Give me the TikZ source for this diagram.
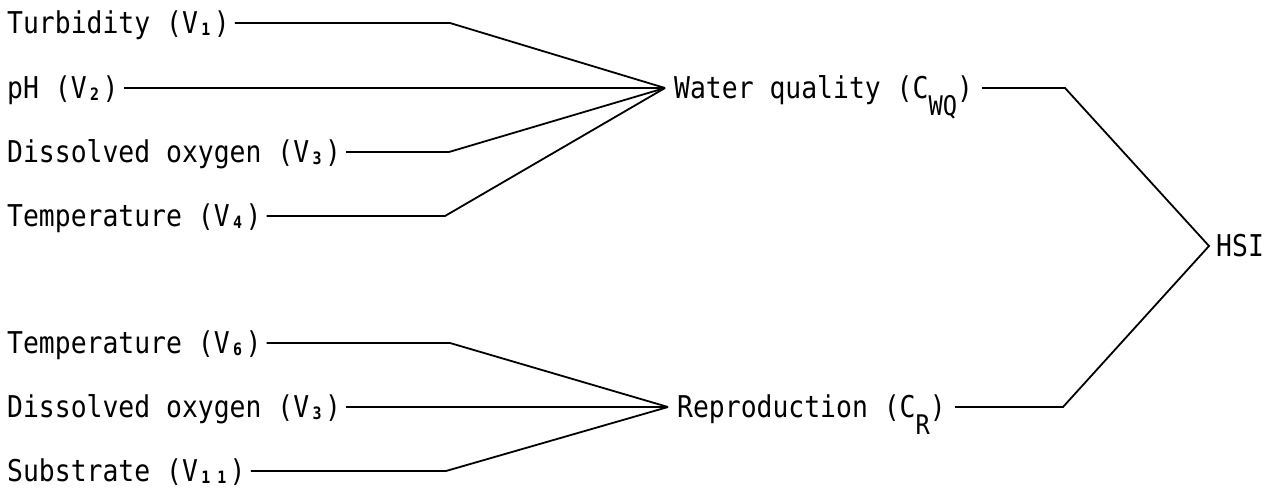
\documentclass[tikz,border=0pt]{standalone}
\usepackage{fontspec}
\newfontfamily\diagfont[FakeStretch=0.88]{DejaVu Sans Mono}
\newcommand\vsb[1]{\makebox[15.9pt]{\raisebox{-2pt}{\fontsize{17}{17}\selectfont\bfseries #1}}}
\newcommand\csb[1]{\raisebox{-17pt}{\fontsize{27}{27}\selectfont #1}}
\begin{document}
\begin{tikzpicture}[x=1pt,y=-1pt,
  lbl/.style={inner xsep=5pt, inner ysep=0pt, text height=21.9pt, text depth=0pt,
    font=\diagfont\fontsize{30}{32}\selectfont},
  rlbl/.style={lbl, inner xsep=9pt},
  wire/.style={line width=1.8pt, line join=miter, miter limit=20}]
\useasboundingbox (0,0) rectangle (1281,490);
% input variables
\node[lbl,anchor=west] (v1)  at (2,23)  {Turbidity (V\vsb{1})};
\node[lbl,anchor=west] (v2)  at (2,88)  {pH (V\vsb{2})};
\node[lbl,anchor=west] (v3)  at (2,152) {Dissolved oxygen (V\vsb{3})};
\node[lbl,anchor=west] (v4)  at (2,216) {Temperature (V\vsb{4})};
\node[lbl,anchor=west] (v6)  at (2,343) {Temperature (V\vsb{6})};
\node[lbl,anchor=west] (v3b) at (2,407) {Dissolved oxygen (V\vsb{3})};
\node[lbl,anchor=west] (v11) at (2,471) {Substrate (V\vsb{1}\vsb{1})};
% components
\node[rlbl,anchor=west] (wq)  at (665,88)  {Water quality (C\csb{WQ})};
\node[rlbl,anchor=west] (cr)  at (668,407) {Reproduction (C\csb{R})};
\node[rlbl,anchor=west,inner xsep=7pt] (hsi) at (1209,246) {HSI};
% knees
\coordinate (k1) at (450,23);
\coordinate (k3) at (449,152);
\coordinate (k4) at (445,216);
\coordinate (k6) at (450,343);
\coordinate (k11) at (446,471);
\coordinate (kwq) at (1065,88);
\coordinate (kcr) at (1063,407);
% connectors
\draw[wire] (v1.east) -- (k1) -- (wq.west);
\draw[wire] (v2.east) -- (wq.west);
\draw[wire] (v3.east) -- (k3) -- (wq.west);
\draw[wire] (v4.east) -- (k4) -- (wq.west);
\draw[wire] (v6.east) -- (k6) -- (cr.west);
\draw[wire] (v3b.east) -- (cr.west);
\draw[wire] (v11.east) -- (k11) -- (cr.west);
\draw[wire] (wq.east) -- (kwq) -- (hsi.west) -- (kcr) -- (cr.east);
\end{tikzpicture}
\end{document}
